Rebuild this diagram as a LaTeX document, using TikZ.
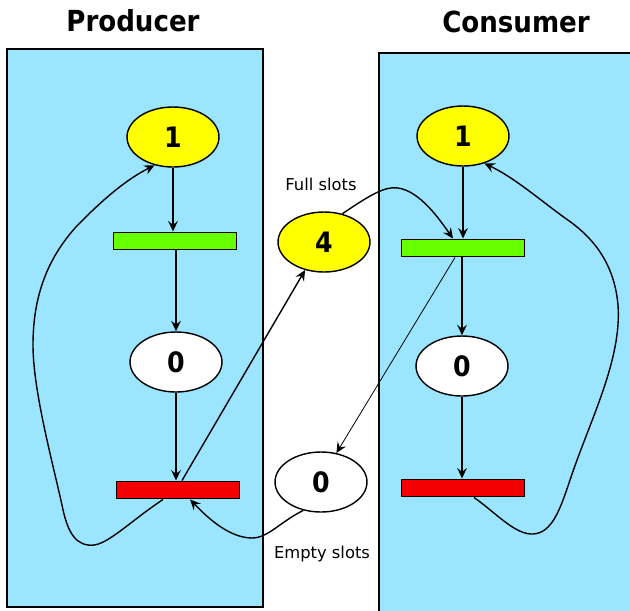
\documentclass[tikz,border=0pt]{standalone}
\usepackage{fontspec}
\setmainfont{DejaVu Sans}
\newfontfamily\condbold{DejaVu Sans Condensed Bold}
\usetikzlibrary{shapes.geometric,arrows.meta}
\definecolor{lane}{RGB}{155,229,255}
\definecolor{tokyel}{RGB}{255,255,0}
\definecolor{bargreen}{RGB}{104,255,0}
\definecolor{barred}{RGB}{245,0,0}
\tikzset{
  lanebox/.style={draw=black, line width=0.9pt, fill=lane},
  place/.style={ellipse, draw=black, line width=0.8pt, minimum width=1.84cm, minimum height=1.2cm, inner sep=0pt, font=\condbold\fontsize{16}{18}\selectfont},
  fullplace/.style={place, fill=tokyel},
  emptyplace/.style={place, fill=white},
  transbar/.style={rectangle, draw=black, line width=1.1pt, minimum width=2.46cm, minimum height=0.34cm, inner sep=0pt},
  title/.style={font=\condbold\fontsize{16.5}{18}\selectfont},
  lbl/.style={font=\fontsize{9.3}{11}\selectfont},
  arr/.style={-{Stealth[length=6pt,width=5.5pt,inset=2.2pt]}, line width=0.8pt},
  thinarr/.style={-{Stealth[length=6pt,width=5.5pt,inset=2.2pt]}, line width=0.45pt}
}
\begin{document}
\begin{tikzpicture}[x=0.02cm, y=-0.02cm]
\clip (0,0) rectangle (630,610);
\fill[white] (0,0) rectangle (630,610);
% lanes
\draw[lanebox] (7,49) rectangle (263,607);
\draw[lanebox] (379,53) rectangle (650,630);
% titles
\node[title] (tp) at (133,21) {Producer};
\node[title] (tc) at (516,22) {Consumer};
% producer
\node[fullplace] (p1) at (173,137) {1};
\node[transbar, fill=bargreen] (pg) at (175,241) {};
\node[emptyplace] (p0) at (176,362) {0};
\node[transbar, fill=barred] (pr) at (178,490) {};
% consumer
\node[fullplace] (c1) at (463,136) {1};
\node[transbar, fill=bargreen] (cg) at (463,248) {};
\node[emptyplace] (c0) at (462,366) {0};
\node[transbar, fill=barred] (cr) at (463,488) {};
% buffers
\node[fullplace] (full) at (324,242) {4};
\node[emptyplace] (empty) at (321,482) {0};
\node[lbl] (lf) at (321,184) {Full slots};
\node[lbl] (le) at (322,554) {Empty slots};
% producer vertical
\draw[arr] (p1.south) -- (p1.south |- pg.north);
\draw[arr] (p0.north |- pg.south) -- (p0.north);
\draw[arr] (p0.south) -- (p0.south |- pr.north);
% consumer vertical
\draw[arr] (c1.south) -- (c1.south |- cg.north);
\draw[arr] (c0.north |- cg.south) -- (c0.north);
\draw[arr] (c0.south) -- (c0.south |- cr.north);
% producer loop
\draw[arr] ([xshift=-0.3cm]pr.south) .. controls (125,525) and (105,548) .. (88,545)
  .. controls (72,543) and (66,525) .. (62,505)
  .. controls (52,460) and (33,390) .. (33,345)
  .. controls (33,300) and (45,262) .. (75,228)
  .. controls (100,202) and (125,180) .. (p1.237);
% producer red to full
\draw[arr] ([xshift=0.08cm]pr.north) -- (full.236);
% full to consumer green
\draw[arr] (full.57) .. controls (370,195) and (385,186) .. (398,188)
  .. controls (420,191) and (440,220) .. ([xshift=-0.2cm]cg.north);
% consumer green to empty
\draw[thinarr] ([xshift=-0.16cm]cg.south) -- (empty.62);
% empty to producer red
\draw[arr] (empty.238) .. controls (280,522) and (268,538) .. (252,538)
  .. controls (228,538) and (205,515) .. ([xshift=0.24cm]pr.south);
% consumer loop
\draw[arr] ([xshift=0.22cm]cr.south) .. controls (495,512) and (515,535) .. (533,534)
  .. controls (552,533) and (560,510) .. (570,480)
  .. controls (590,420) and (622,360) .. (618,305)
  .. controls (614,260) and (590,235) .. (565,218)
  .. controls (540,200) and (515,178) .. (c1.-52);
\end{tikzpicture}
\end{document}
